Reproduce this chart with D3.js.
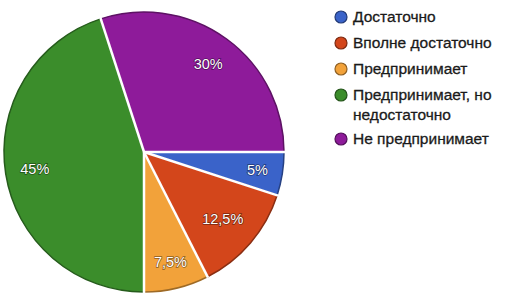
<!DOCTYPE html>
<html lang="ru">
<head>
<meta charset="UTF-8">
<title>Pie</title>
<style>
  body { margin: 0; background: #fff; }
  svg { display: block; font-family: 'Liberation Sans', Arial, sans-serif; }
</style>
</head>
<body>
<svg id="chart" width="505" height="301"></svg>
<script src="https://d3js.org/d3.v7.min.js"></script>
<script>
  // data
  const categories = ["Достаточно", "Вполне достаточно", "Предпринимает", "Предпринимает, но недостаточно", "Не предпринимает"];
  const values = [5, 12.5, 7.5, 45, 30];
  const valueLabels = ["5%", "12,5%", "7,5%", "45%", "30%"];
  const legendLines = [["Достаточно"], ["Вполне достаточно"], ["Предпринимает"], ["Предпринимает, но", "недостаточно"], ["Не предпринимает"]];
  const colors = ["#3a63c9", "#d3461b", "#f2a23a", "#3b8d2b", "#8e1b9a"];

  const svg = d3.select("#chart");
  const cx = 144, cy = 152, r = 140;

  const pie = d3.pie().sort(null).value(d => d)
    .startAngle(Math.PI / 2).endAngle(Math.PI / 2 + 2 * Math.PI);
  const arcs = pie(values);
  const arc = d3.arc().innerRadius(0).outerRadius(r);

  const g = svg.append("g").attr("transform", `translate(${cx},${cy})`);

  g.selectAll("path.slice").data(arcs).enter()
    .append("path")
    .attr("class", "slice")
    .attr("d", arc)
    .attr("fill", (d, i) => colors[i])
    .attr("stroke", (d, i) => d3.color(colors[i]).darker(1.2))
    .attr("stroke-width", 1.5);

  // white separators between slices
  g.selectAll("line.sep").data(arcs).enter()
    .append("line")
    .attr("x1", 0).attr("y1", 0)
    .attr("x2", d => Math.sin(d.startAngle) * (r + 1))
    .attr("y2", d => -Math.cos(d.startAngle) * (r + 1))
    .attr("stroke", "#fff")
    .attr("stroke-width", 2.5);

  // value labels
  const labelRadius = [0.82, 0.74, 0.81, 0.79, 0.78];
  g.selectAll("text.val").data(arcs).enter()
    .append("text")
    .attr("x", (d, i) => Math.sin((d.startAngle + d.endAngle) / 2) * r * labelRadius[i])
    .attr("y", (d, i) => -Math.cos((d.startAngle + d.endAngle) / 2) * r * labelRadius[i])
    .attr("text-anchor", "middle")
    .attr("dy", "0.35em")
    .attr("fill", "#fff")
    .attr("font-size", 14.5)
    .style("paint-order", "stroke")
    .attr("stroke", "rgba(0,0,0,0.45)")
    .attr("stroke-width", 1.5)
    .text((d, i) => valueLabels[i]);

  // legend
  const rowY = [17, 43, 69, 95, 139];
  const legend = svg.append("g");
  categories.forEach((c, i) => {
    const row = legend.append("g").attr("transform", `translate(341,${rowY[i]})`);
    row.append("circle")
      .attr("r", 6)
      .attr("fill", colors[i])
      .attr("stroke", d3.color(colors[i]).darker(1.5))
      .attr("stroke-width", 1.2);
    legendLines[i].forEach((line, j) => {
      row.append("text")
        .attr("x", 12)
        .attr("y", j * 20)
        .attr("dy", "0.35em")
        .attr("font-size", 15.5)
        .attr("fill", "#1a1a1a")
        .style("paint-order", "stroke")
        .attr("stroke", "#1a1a1a")
        .attr("stroke-width", 0.3)
        .text(line);
    });
  });
</script>
</body>
</html>
